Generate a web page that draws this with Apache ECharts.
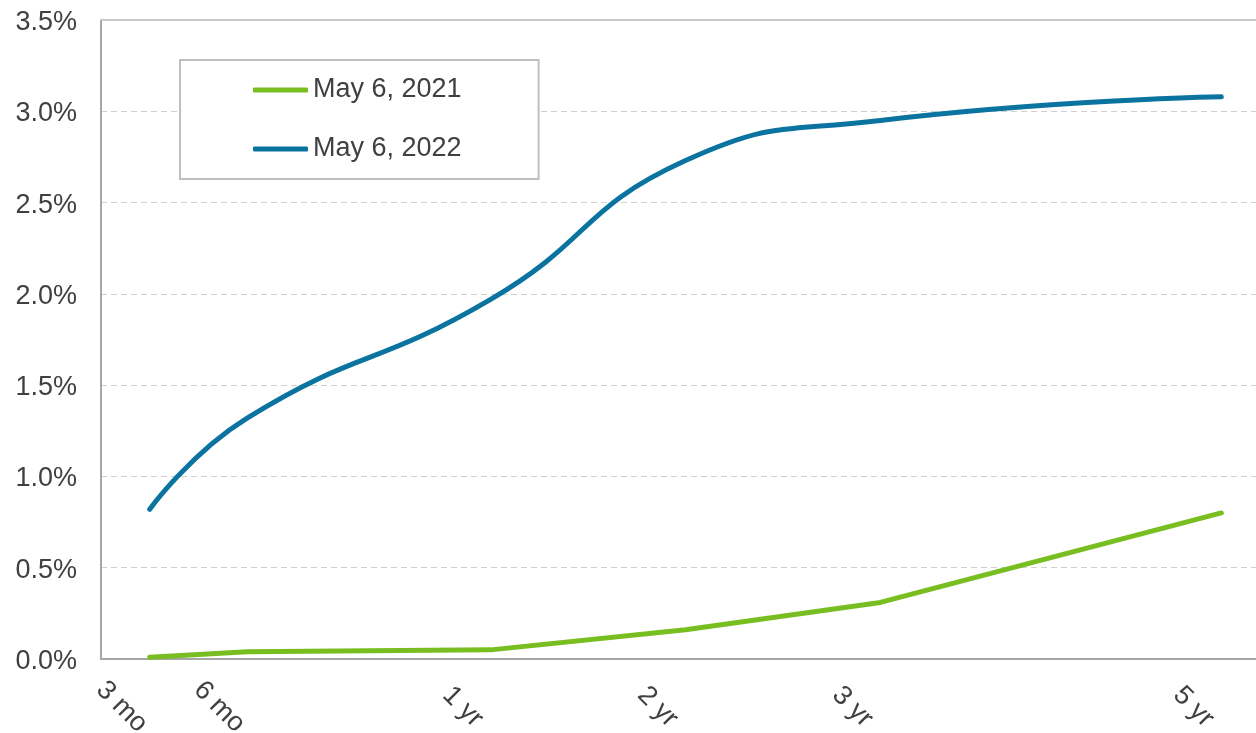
<!DOCTYPE html>
<html>
<head>
<meta charset="utf-8">
<script src="https://cdn.jsdelivr.net/npm/echarts@6/dist/echarts.min.js"></script>
<style>
  html, body { margin: 0; padding: 0; background: #ffffff; }
  #chart { width: 1256px; height: 733px; }
</style>
</head>
<body>
<div id="chart"></div>
<script>
// Treasury yield curve on two dates
const tenorLabels = ['3 mo', '6 mo', '1 yr', '2 yr', '3 yr', '5 yr'];
// slot of each maturity along the horizontal axis (axis runs 0..24)
const tenorSlots = [1, 3, 8, 12, 16, 23];
const seriesNames = ['May 6, 2021', 'May 6, 2022'];
const yields2021 = [0.01, 0.04, 0.05, 0.16, 0.31, 0.80];
const yields2022 = [0.82, 1.32, 1.97, 2.73, 2.95, 3.08];
const yTicks = { min: 0, max: 3.5, step: 0.5 };

const FONT = '"Liberation Sans", Arial, sans-serif';
const TEXT = '#404040';
const GREEN = '#78be21';
const BLUE = '#0b73a0';

const toPairs = ys => tenorSlots.map((x, i) => [x, ys[i]]);

const chart = echarts.init(document.getElementById('chart'), null, { renderer: 'canvas' });
chart.setOption({
  animation: false,
  backgroundColor: '#ffffff',
  textStyle: { fontFamily: FONT },
  // plot area runs a little past the right edge of the page
  grid: { left: 101, right: -14, top: 20, bottom: 74, outerBoundsMode: 'none', containLabel: false },
  legend: {
    orient: 'vertical',
    left: 180,
    top: 60,
    icon: 'roundRect',
    itemWidth: 55,
    itemHeight: 5,
    itemGap: 29,
    padding: [15, 77, 15, 73],
    borderColor: '#bfbfbf',
    borderWidth: 2,
    backgroundColor: '#ffffff',
    textStyle: { fontSize: 27, lineHeight: 30, color: TEXT, fontFamily: FONT },
    data: seriesNames
  },
  xAxis: [
    {
      type: 'value',
      min: 0,
      max: 24,
      axisLine: { show: true, onZero: false, lineStyle: { color: '#a6a6a6', width: 2 } },
      axisTick: { show: false },
      splitLine: { show: false },
      axisLabel: {
        customValues: tenorSlots,
        // blank first line pushes the tenor text down-left of its tick
        formatter: v => '\n' + tenorLabels[tenorSlots.indexOf(v)],
        rotate: -45,
        align: 'center',
        verticalAlign: 'middle',
        lineHeight: 79,
        margin: 20,
        fontSize: 27,
        color: TEXT,
        fontFamily: FONT
      }
    },
    {
      type: 'value',
      position: 'top',
      min: 0,
      max: 24,
      axisLine: { show: true, onZero: false, lineStyle: { color: '#c9c9c9', width: 2 } },
      axisTick: { show: false },
      axisLabel: { show: false },
      splitLine: { show: false }
    }
  ],
  yAxis: {
    type: 'value',
    min: yTicks.min,
    max: yTicks.max,
    interval: yTicks.step,
    axisLine: { show: true, lineStyle: { color: '#a6a6a6', width: 2 } },
    axisTick: { show: false },
    splitLine: { show: true, lineStyle: { color: '#d0d0d0', width: 1, type: [6, 4] } },
    axisLabel: {
      formatter: v => '{v|' + v.toFixed(1) + '%}',
      margin: 24,
      rich: {
        v: { fontSize: 27, color: TEXT, fontFamily: FONT, padding: [5, 0, 0, 0] }
      }
    }
  },
  series: [
    {
      name: seriesNames[0],
      type: 'line',
      data: toPairs(yields2021),
      symbol: 'none',
      smooth: false,
      color: GREEN,
      lineStyle: { color: GREEN, width: 5, cap: 'round', join: 'round' }
    },
    {
      name: seriesNames[1],
      type: 'line',
      data: toPairs(yields2022),
      symbol: 'none',
      smooth: 0.5,
      color: BLUE,
      lineStyle: { color: BLUE, width: 5, cap: 'round', join: 'round' }
    }
  ]
});
</script>
</body>
</html>
